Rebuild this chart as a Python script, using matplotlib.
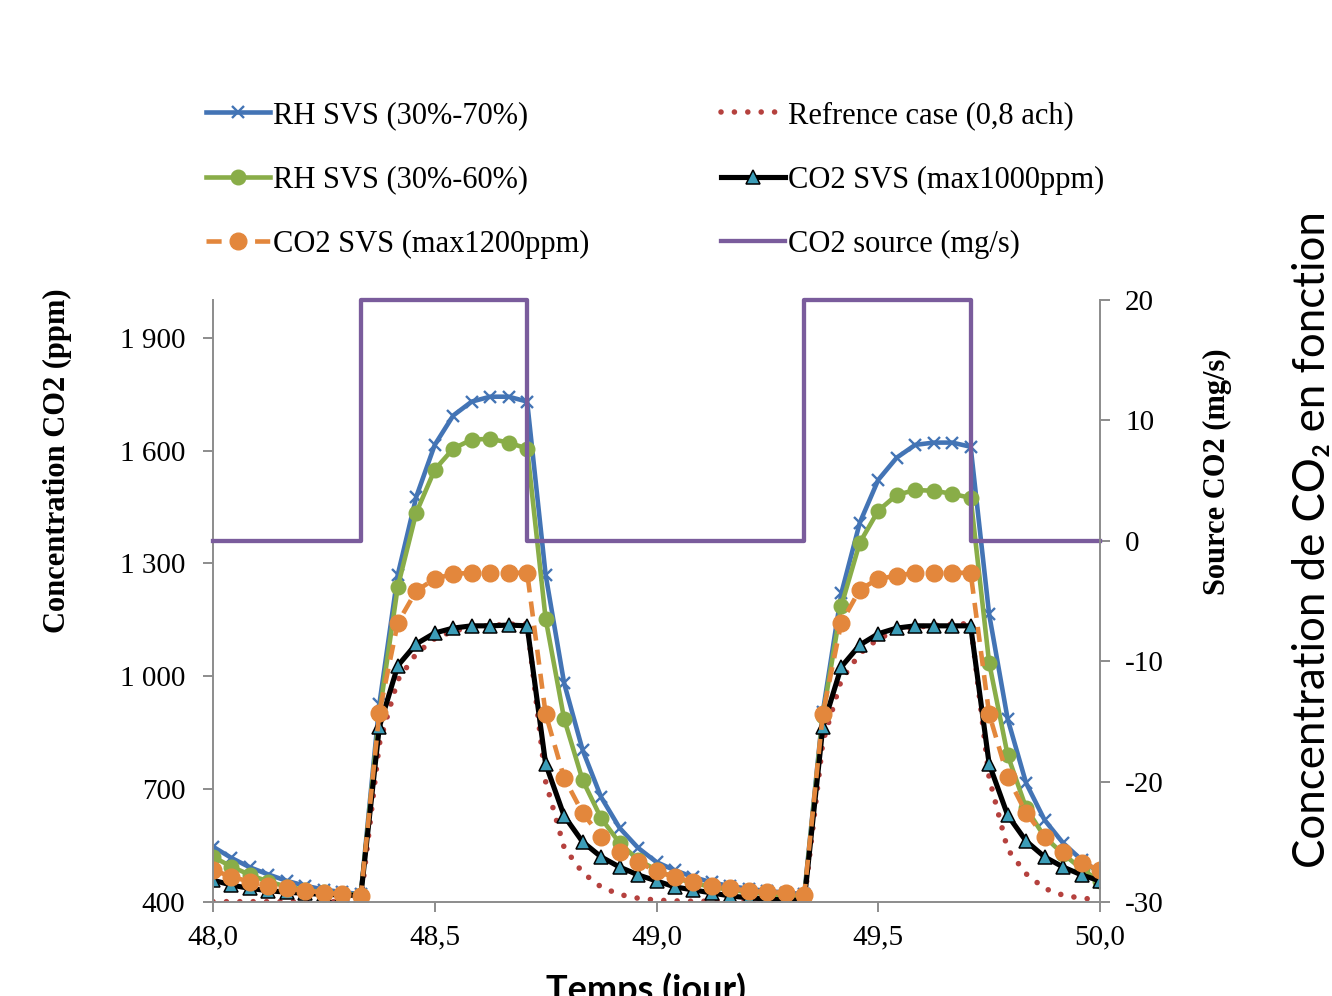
import numpy as np
import matplotlib
matplotlib.use('Agg')
import matplotlib.pyplot as plt

plt.rcParams['font.family'] = ['Liberation Serif', 'DejaVu Serif']

# hourly points from day 48,0 to day 50,0
hours = np.arange(49)
temps = 48 + hours / 24

rh_70 = [547, 517, 492, 473, 456, 443, 433, 426, 421,
         925, 1270, 1477, 1615, 1693, 1730, 1743, 1743, 1730,
         1270, 982, 804, 679, 597, 544, 506, 484, 466, 452, 442, 435, 429, 425, 421,
         905, 1220, 1408, 1522, 1581, 1615, 1621, 1621, 1610,
         1165, 887, 716, 618, 557, 512, 477]
rh_60 = [520, 494, 472, 454, 441, 432, 426, 421, 419,
         900, 1238, 1435, 1549, 1605, 1629, 1631, 1621, 1605,
         1153, 887, 724, 623, 557, 512, 485, 464, 450, 440, 432, 426, 421, 418, 415,
         895, 1187, 1355, 1440, 1482, 1495, 1493, 1485, 1474,
         1036, 791, 650, 573, 528, 488, 455]
co2_1200 = [485, 467, 454, 443, 436, 430, 425, 420, 417,
            903, 1142, 1227, 1259, 1272, 1275, 1275, 1275, 1275,
            900, 730, 637, 573, 533, 506, 482, 466, 453, 443, 437, 429, 427, 424, 419,
            900, 1142, 1230, 1259, 1267, 1275, 1275, 1275, 1275,
            900, 733, 637, 573, 533, 504, 485]
reference = [401, 401, 401, 401, 401, 401, 401, 401, 401,
             820, 990, 1060, 1100, 1120, 1130, 1135, 1138, 1140,
             720, 545, 478, 440, 420, 410, 405, 403, 402, 402, 402, 402, 402, 402, 402,
             825, 990, 1060, 1100, 1120, 1130, 1135, 1138, 1140,
             730, 540, 475, 436, 418, 410, 406]
co2_1000 = [458, 445, 436, 430, 426, 423, 420, 419, 417,
            865, 1028, 1086, 1115, 1128, 1134, 1134, 1136, 1134,
            767, 629, 560, 520, 493, 472, 456, 440, 432, 424, 416, 411, 408, 405, 405,
            865, 1025, 1083, 1113, 1128, 1134, 1134, 1134, 1134,
            767, 631, 562, 520, 493, 472, 456]
source = [0] * 8 + [20] * 9 + [0] * 15 + [20] * 9 + [0] * 8

yticks_left = [400, 700, 1000, 1300, 1600, 1900]
yticklabels_left = ['400', '700', '1\u00a0000', '1\u00a0300', '1\u00a0600', '1\u00a0900']
yticks_right = [-30, -20, -10, 0, 10, 20]
xticks = [48.0, 48.5, 49.0, 49.5, 50.0]
xticklabels = ['48,0', '48,5', '49,0', '49,5', '50,0']

blue = '#4374B5'
green = '#89AD48'
orange = '#E3873C'
red = '#B5413E'
purple = '#7A5C9C'
teal = '#3C9DB8'
grey = '#8C8C8C'

fig = plt.figure(figsize=(13.32, 9.96), dpi=100)
ax = fig.add_axes([213 / 1332, 1 - 902 / 996, 887 / 1332, 602 / 996])
ax2 = ax.twinx()

l70, = ax.plot(temps, rh_70, color=blue, lw=3.3, marker='x', ms=9, mew=1.7,
               label='RH SVS (30%-70%)')
l60, = ax.plot(temps, rh_60, color=green, lw=3.3, marker='o', ms=10.5,
               label='RH SVS (30%-60%)')
lref, = ax.plot(temps, reference, color=red, lw=4.0, linestyle=(0, (0.01, 2.4)),
                dash_capstyle='round', label='Refrence case (0,8 ach)')
l1000, = ax.plot(temps, co2_1000, color='black', lw=3.7, marker='^', ms=10,
                 mfc=teal, mec='black', mew=1.1, label='CO2 SVS (max1000ppm)')
l1200, = ax.plot(temps, co2_1200, color=orange, lw=3.3, linestyle=(0, (3.3, 2.0)),
                 marker='o', ms=12, label='CO2 SVS (max1200ppm)')
lsrc, = ax2.plot(temps, source, color=purple, lw=3.1, drawstyle='steps-post',
                 clip_on=False, label='CO2 source (mg/s)')

ax.set_xlim(48, 50)
ax.set_ylim(400, 2000)
ax2.set_ylim(-30, 20)
ax.set_xticks(xticks)
ax.set_xticklabels(xticklabels)
ax.set_yticks(yticks_left)
ax.set_yticklabels(yticklabels_left)
ax2.set_yticks(yticks_right)
ax2.set_yticklabels([str(v) for v in yticks_right])

for a in (ax, ax2):
    a.spines['top'].set_visible(False)
    for s in a.spines.values():
        s.set_color(grey)
        s.set_linewidth(1.4)
ax.spines['right'].set_visible(False)
ax2.spines['left'].set_visible(False)
ax2.spines['bottom'].set_visible(False)

ax.tick_params(axis='y', labelsize=21, length=7, width=1.4, color=grey, pad=13)
ax.tick_params(axis='x', labelsize=21, length=7, width=1.4, color=grey, pad=9)
ax2.tick_params(axis='y', labelsize=21, length=7, width=1.4, color=grey, pad=11)

ax.set_ylabel('Concentration CO2 (ppm)', fontsize=22, fontweight='bold')
ax.yaxis.set_label_coords(-0.159, 0.733)
ax2.set_ylabel('Source CO2 (mg/s)', fontsize=22, fontweight='bold')
ax2.yaxis.set_label_coords(1.116, 0.714)

handles = [l70, l60, l1200, lref, l1000, lsrc]
fig.legend(handles, [h.get_label() for h in handles], ncol=2, loc='upper left',
           bbox_to_anchor=(206 / 1332, 1 - 101 / 996), frameon=False,
           prop={'family': 'Liberation Serif', 'size': 22},
           handlelength=2.1, handletextpad=0.1, columnspacing=4.3,
           labelspacing=1.16, borderpad=0, borderaxespad=0)

fig.text(646 / 1332, 1 - 972 / 996, 'Temps (jour)', ha='center', va='top',
         fontsize=26, fontweight='bold', family=['Lato', 'DejaVu Sans'])
fig.text(1292 / 1332, 1 - 540 / 996, 'Concentration de CO\u2082 en fonction',
         rotation=90, ha='left', va='center', fontsize=31.5,
         family=['Lato', 'DejaVu Sans'])

fig.savefig('out.png', dpi=100, facecolor='white')
